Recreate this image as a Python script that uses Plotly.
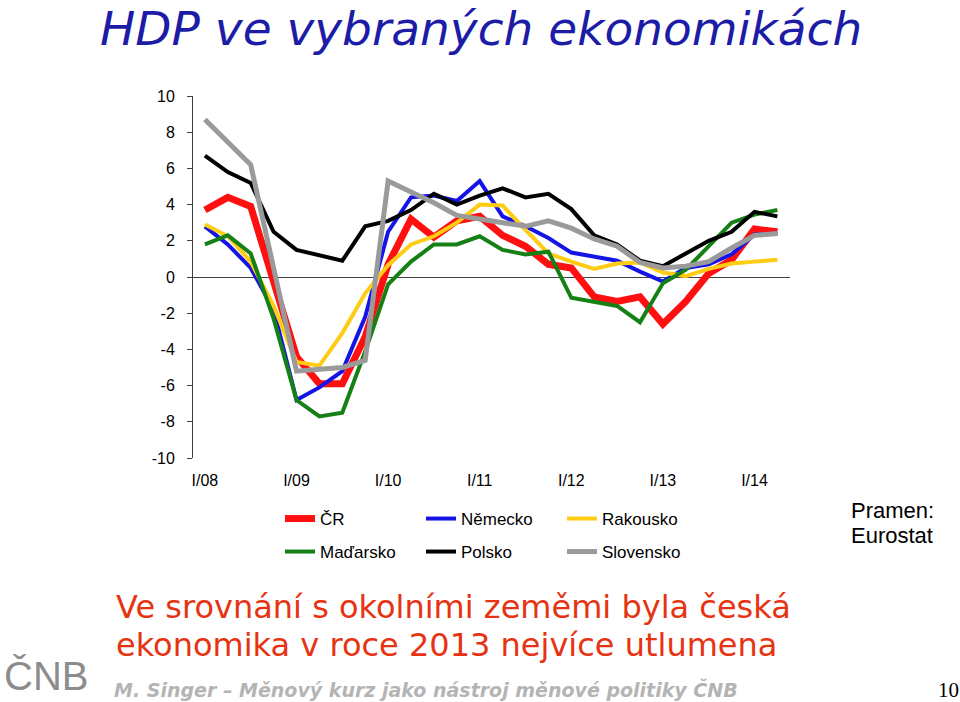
import plotly.graph_objects as go

# Quarters 2008Q1 .. 2014Q2
quarters = [f"{q}Q{y}" for y in range(2008, 2015) for q in range(1, 5)][:26]
tick_labels = ["I/08", "I/09", "I/10", "I/11", "I/12", "I/13", "I/14"]
y_ticks = [10, 8, 6, 4, 2, 0, -2, -4, -6, -8, -10]

cr = [3.7, 4.4, 3.9, -0.1, -4.4, -5.9, -5.9, -3.3, 0.7, 3.2, 2.2, 3.1, 3.35, 2.3, 1.7, 0.7,
      0.5, -1.1, -1.35, -1.1, -2.6, -1.35, 0.2, 0.95, 2.65, 2.5]
nemecko = [2.8, 1.8, 0.5, -1.8, -6.8, -6.1, -5.2, -2.2, 2.5, 4.4, 4.5, 4.2, 5.3, 3.35, 2.8, 2.15,
           1.35, 1.15, 0.9, 0.3, -0.25, 0.5, 0.7, 1.25, 2.35, 2.4]
rakousko = [2.9, 2.25, 0.85, -1.6, -4.7, -4.9, -3.1, -0.9, 0.65, 1.8, 2.25, 3.0, 4.0, 3.95, 2.6, 1.3,
            0.85, 0.45, 0.75, 0.8, 0.25, 0.05, 0.45, 0.75, 0.85, 0.95]
madarsko = [1.8, 2.3, 1.3, -2.3, -6.8, -7.7, -7.5, -4.1, -0.4, 0.85, 1.8, 1.8, 2.25, 1.5, 1.25, 1.4,
            -1.15, -1.35, -1.6, -2.5, -0.35, 0.4, 1.7, 3.0, 3.45, 3.7]
polsko = [6.7, 5.8, 5.2, 2.5, 1.5, 1.2, 0.9, 2.8, 3.1, 3.7, 4.6, 4.0, 4.5, 4.9, 4.4, 4.6,
          3.75, 2.3, 1.8, 0.9, 0.6, 1.3, 2.0, 2.5, 3.6, 3.35]
slovensko = [8.7, 7.45, 6.2, 0.5, -5.2, -5.1, -5.0, -4.6, 5.3, 4.7, 4.1, 3.4, 3.2, 3.0, 2.8, 3.1,
             2.7, 2.1, 1.7, 0.8, 0.5, 0.6, 0.85, 1.6, 2.3, 2.4]

series = [
    ("ČR", cr, "#ff1010", 7, "legend"),
    ("Německo", nemecko, "#1414e6", 4, "legend"),
    ("Rakousko", rakousko, "#ffcc14", 4, "legend"),
    ("Maďarsko", madarsko, "#158015", 4, "legend2"),
    ("Polsko", polsko, "#000000", 4, "legend2"),
    ("Slovensko", slovensko, "#9a9a9a", 5, "legend2"),
]

W, H = 960, 702
L, R, T, B = 193, 170, 96, 244
PW, PH = W - L - R, H - T - B


def px(X):
    return (X - L) / PW


def py(Y):
    return (H - B - Y) / PH


xidx = list(range(len(quarters)))
fig = go.Figure()
for name, vals, color, width, lg in series:
    fig.add_trace(go.Scatter(x=xidx, y=vals, mode="lines", name=name,
                             line=dict(color=color, width=width),
                             legend=lg, hoverinfo="skip"))

axis_font = dict(family="Liberation Sans, Arial", size=16, color="#000000")
leg_common = dict(orientation="h", xanchor="left", yanchor="middle",
                  entrywidth=96, entrywidthmode="pixels",
                  font=dict(family="Liberation Sans, Arial", size=17, color="#000"),
                  bgcolor="rgba(0,0,0,0)", itemclick=False, itemdoubleclick=False)
fig.update_layout(
    width=W, height=H,
    margin=dict(l=L, r=R, t=T, b=B),
    paper_bgcolor="white", plot_bgcolor="white",
    showlegend=True,
    xaxis=dict(range=[-0.52, 25.55], tickvals=[0, 4, 8, 12, 16, 20, 24], ticktext=tick_labels,
               showgrid=False, zeroline=False, showline=False, ticks="",
               tickfont=axis_font, ticklabelstandoff=11),
    yaxis=dict(range=[-10, 10], tickvals=y_ticks, ticktext=[str(v) for v in y_ticks],
               showgrid=False, zeroline=True, zerolinecolor="#404040", zerolinewidth=1,
               showline=True, linecolor="#404040", linewidth=1,
               ticks="outside", ticklen=5, tickcolor="#404040",
               tickfont=axis_font, ticklabelstandoff=9),
    legend=dict(x=px(280), y=py(519), **leg_common),
    legend2=dict(x=px(280), y=py(552), **leg_common),
)

sans = "DejaVu Sans, Verdana, sans-serif"
ann = []
ann.append(dict(text="<i>HDP ve vybraných ekonomikách</i>", x=px(481), y=py(28),
                font=dict(family=sans, size=47, color="#1c1ca6")))
# subtitle
ann.append(dict(text="Ve srovnání s okolními zeměmi byla česká", x=px(114), y=py(607), xanchor="left",
                font=dict(family=sans, size=32, color="#e63312")))
ann.append(dict(text="ekonomika v roce 2013 nejvíce utlumena", x=px(114), y=py(645), xanchor="left",
                font=dict(family=sans, size=32, color="#e63312")))
# footer
ann.append(dict(text="<b><i>M. Singer – Měnový kurz jako nástroj měnové politiky ČNB</i></b>",
                x=px(112), y=py(689), xanchor="left",
                font=dict(family=sans, size=19, color="#b4b4b4")))
ann.append(dict(text="10", x=px(948), y=py(690),
                font=dict(family="Liberation Serif, Times New Roman, serif", size=21, color="#000")))
# logo
ann.append(dict(text="ČNB", x=px(2), y=py(676), xanchor="left",
                font=dict(family="Liberation Sans, Arial, sans-serif", size=40, color="#8c8c8c")))
# source
ann.append(dict(text="Pramen:", x=px(849), y=py(510), xanchor="left",
                font=dict(family="Liberation Sans, Arial", size=22, color="#000")))
ann.append(dict(text="Eurostat", x=px(849), y=py(535), xanchor="left",
                font=dict(family="Liberation Sans, Arial", size=22, color="#000")))

for a in ann:
    a.update(xref="paper", yref="paper", showarrow=False, yanchor=a.get("yanchor", "middle"))
    a.setdefault("xanchor", "center")
fig.update_layout(annotations=ann)

fig.write_html("out.html")
